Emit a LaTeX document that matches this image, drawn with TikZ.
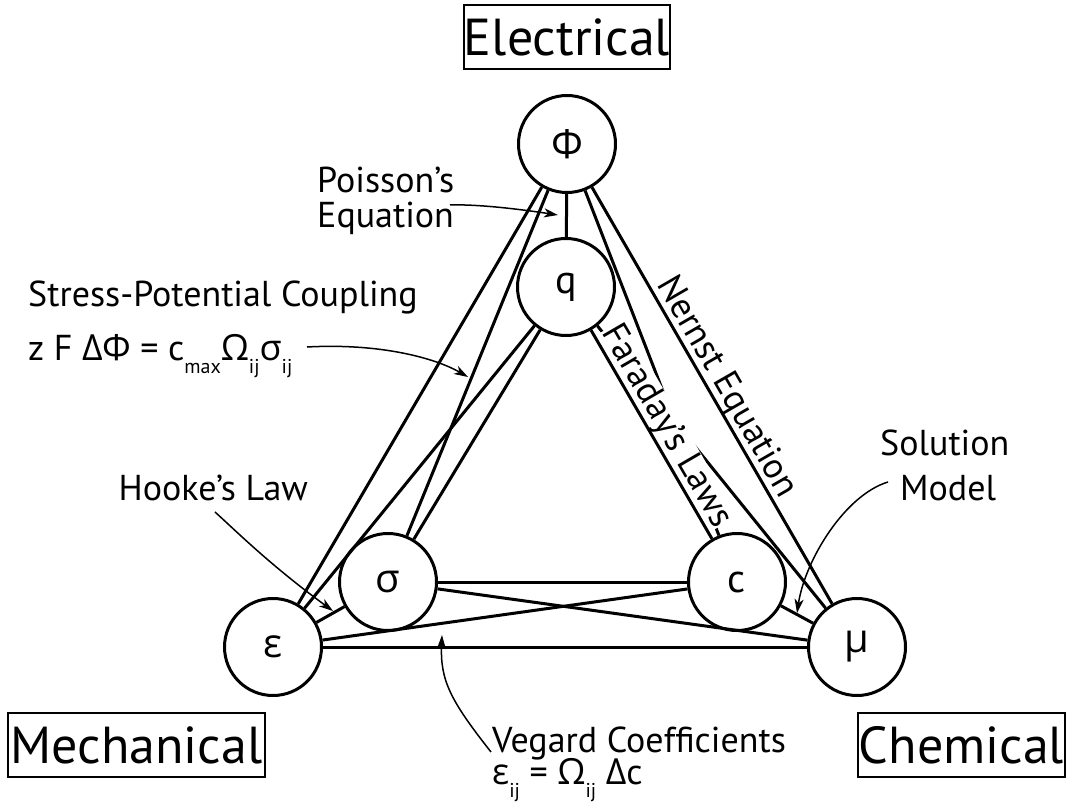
\documentclass[tikz,border=0pt]{standalone}
\usepackage{fontspec}
\setmainfont{PT Sans}
\newfontfamily\gr{Open Sans}
\usetikzlibrary{arrows.meta}
\newcommand{\subx}[1]{\raisebox{-0.38em}{\fontsize{20}{20}\selectfont #1}}
\begin{document}
\begin{tikzpicture}[x=1pt,y=-1pt,
  st/.style={circle, draw, line width=3pt, minimum size=97pt, inner sep=0pt, font=\fontsize{40}{40}\selectfont},
  edge/.style={line width=3pt},
  lab/.style={font=\fontsize{36}{40}\selectfont, inner sep=0pt},
  big/.style={draw, line width=1.5pt, font=\fontsize{52}{52}\selectfont, inner sep=0pt, minimum height=64pt},
  ann/.style={line width=1.5pt, -{Stealth[length=14pt,width=9pt,inset=4pt]}}]
\useasboundingbox (0,0) rectangle (1068,805);
% state nodes
\node[st] (phi) at (567,144) {\gr Φ};
\node[st] (q) at (566,287) {q};
\node[st] (sig) at (388,582) {\gr σ};
\node[st] (c) at (737,582) {c};
\node[st] (eps) at (273,647) {\gr ε};
\node[st] (mu) at (857,647) {\gr μ};
% edges
\draw[edge] (phi) -- (q);
\draw[edge] (phi) -- (eps);
\draw[edge] (phi) -- (sig);
\draw[edge] (q) -- (eps);
\draw[edge] (q) -- (sig);
\draw[edge] (eps) -- (sig);
\draw[edge] (sig) -- (c);
\draw[edge] (sig) -- (mu);
\draw[edge] (eps) -- (c);
\draw[edge] (eps) -- (mu);
\draw[edge] (c) -- (mu);
\draw[edge] (phi) -- (mu);
\draw[edge] (phi) -- (c);
\draw[edge] (q) -- (mu);
\path (q) -- (c) node[lab, sloped, pos=0.5, anchor=south, fill=white] (far) {Faraday’s Laws};
\path (phi) -- (mu) node[lab, sloped, pos=0.5, anchor=south] (ner) {Nernst Equation};
\draw[edge] (q) -- (c);
% domain boxes
\node[big, minimum width=205pt] (elec) at (567,37) {Electrical};
\node[big, minimum width=257pt] (mech) at (136.5,745) {Mechanical};
\node[big, minimum width=207pt] (chem) at (961.5,745) {Chemical};
% Poisson
\node[lab, anchor=base west] (poi1) at (317,193) {Poisson’s};
\node[lab, anchor=base west] (poi2) at (317,228) {Equation};
\coordinate (poiA) at (450,205);
\coordinate (poiB) at (558,215);
\draw[ann] (poiA) .. controls (480,204) and (525,210) .. (poiB);
% Stress-potential
\node[lab, anchor=base west] (spc1) at (28,306) {Stress-Potential Coupling};
\node[lab, anchor=base west] (spc2) at (28,360) {z F {\gr ΔΦ} = c\subx{max}{\gr Ω}\subx{ij}{\gr σ}\subx{ij}};
\coordinate (spcA) at (307,347);
\coordinate (spcB) at (468,377);
\draw[ann] (spcA) .. controls (380,343) and (435,358) .. (spcB);
% Hooke
\node[lab, anchor=base east] (hoo) at (308,500) {Hooke’s Law};
\coordinate (hooA) at (215,512);
\coordinate (hooB) at (333,611);
\draw[ann] (hooA) .. controls (235,530) and (270,565) .. (hooB);
% Solution model
\node[lab, anchor=base west] (sol1) at (880,455) {Solution};
\node[lab, anchor=base west] (sol2) at (900,500) {Model};
\coordinate (solA) at (888,482);
\coordinate (solB) at (797,613);
\draw[ann] (solA) .. controls (845,495) and (805,560) .. (solB);
% Vegard
\node[lab, anchor=base west] (veg1) at (492,752) {Vegard Coefficients};
\node[lab, anchor=base west] (veg2) at (492,784) {{\gr ε}\subx{ij} = {\gr Ω}\subx{ij} {\gr Δ}c};
\coordinate (vegA) at (491,752);
\coordinate (vegB) at (442,635);
\draw[ann] (vegA) .. controls (450,700) and (440,680) .. (vegB);
\end{tikzpicture}
\end{document}
